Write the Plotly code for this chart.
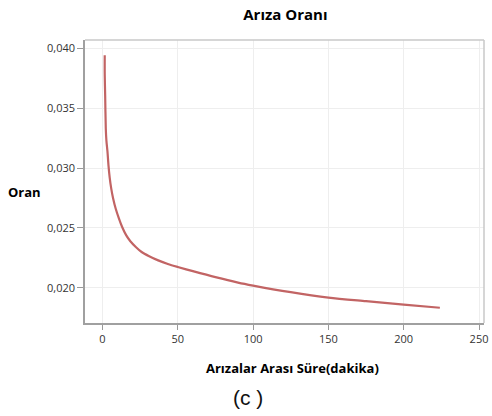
import plotly.graph_objects as go

# Data (time between failures in minutes, failure rate)
sure = [1.5, 1.5, 1.8, 2.2, 2.6, 3.3, 4.0, 4.8, 5.8, 7.0, 8.8, 10.9, 13.0, 15.7, 18.5, 22.3,
        26.0, 31.0, 37.0, 43.4, 50.0, 60.0, 75.0, 90.0, 100.0, 125.0, 150.0, 175.0, 200.0, 224.0]
oran = [0.0394, 0.0378, 0.0360, 0.0333, 0.0323, 0.0314, 0.0302, 0.0292, 0.0283, 0.0275,
        0.0266, 0.0258, 0.0251, 0.0244, 0.0239, 0.0234, 0.0230, 0.02265, 0.0223, 0.0220,
        0.02175, 0.0214, 0.0209, 0.02045, 0.0202, 0.01965, 0.0192, 0.0189, 0.01862, 0.01835]

x_ticks = [0, 50, 100, 150, 200, 250]
y_ticks = [0.020, 0.025, 0.030, 0.035, 0.040]

fig = go.Figure()
fig.add_trace(go.Scatter(
    x=sure, y=oran, mode="lines",
    line=dict(color="#c26464", width=2.2, shape="spline", smoothing=0.8),
    hoverinfo="skip", showlegend=False,
))

axis_font = dict(family="Open Sans, Liberation Sans, sans-serif", size=11, color="#333333")

fig.update_layout(
    width=492, height=416,
    margin=dict(l=85, r=4, t=40, b=93),
    paper_bgcolor="white", plot_bgcolor="white",
    separators=",.",
    title=dict(text="<b>Arıza Oranı</b>", x=0.58, xanchor="center", y=0.965, yanchor="middle",
               font=dict(family="Open Sans, Liberation Sans, sans-serif", size=15, color="#000000")),
    xaxis=dict(
        range=[-11.6, 253.3], tickvals=x_ticks, ticks="outside", ticklen=5, tickcolor="#999999",
        showgrid=True, gridcolor="#eeeeee", gridwidth=1, zeroline=False,
        showline=True, linecolor="#a0a0a0", linewidth=1.5, tickfont=axis_font,
        ticklabeloverflow="allow",
    ),
    yaxis=dict(
        range=[0.01708, 0.04067], tickvals=y_ticks, tickformat=".3f", ticks="outside", ticklen=6,
        tickcolor="#999999", showgrid=True, gridcolor="#eeeeee", gridwidth=1, zeroline=False,
        showline=True, linecolor="#a0a0a0", linewidth=1.5, tickfont=axis_font,
    ),
    shapes=[
        dict(type="line", xref="paper", yref="paper", x0=0, x1=1, y0=1, y1=1,
             line=dict(color="#c8c8c8", width=1.5)),
        dict(type="line", xref="paper", yref="paper", x0=1, x1=1, y0=0, y1=1,
             line=dict(color="#c8c8c8", width=1.5)),
    ],
    annotations=[
        dict(text="<b>Oran</b>", xref="paper", yref="paper", x=-0.151, y=0.463, xanchor="center",
             yanchor="middle", showarrow=False,
             font=dict(family="Open Sans, Liberation Sans, sans-serif", size=13, color="#000000")),
        dict(text="<b>Arızalar Arası Süre(dakika)</b>", xref="paper", yref="paper", x=0.52, y=-0.159,
             xanchor="center", yanchor="middle", showarrow=False,
             font=dict(family="Open Sans, Liberation Sans, sans-serif", size=13, color="#000000")),
        dict(text="(c )", xref="paper", yref="paper", x=0.409, y=-0.265, xanchor="center",
             yanchor="middle", showarrow=False,
             font=dict(family="Liberation Sans, sans-serif", size=21, color="#111111")),
    ],
)

fig.write_html("out.html")
